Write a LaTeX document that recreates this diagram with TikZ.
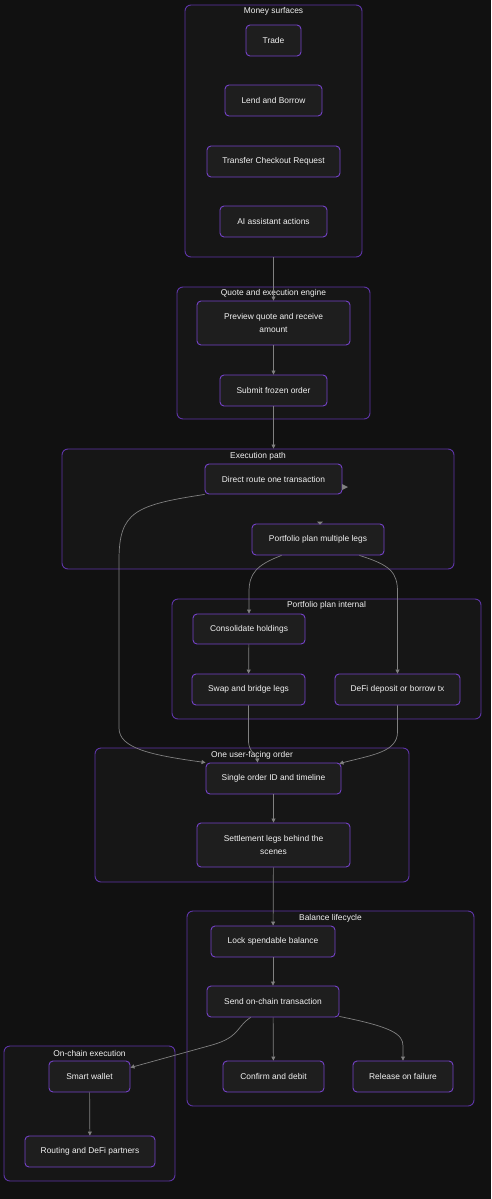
\documentclass[tikz,border=0pt]{standalone}
\usepackage{fontspec}
\setmainfont{Liberation Sans}
\usetikzlibrary{arrows.meta,calc}
\definecolor{bg}{HTML}{111111}
\definecolor{clfill}{HTML}{161616}
\definecolor{clborder}{HTML}{5E35A8}
\definecolor{ndfill}{HTML}{1E1E1E}
\definecolor{ndborder}{HTML}{7442C8}
\definecolor{txt}{HTML}{F2F2F2}
\definecolor{edge}{HTML}{808080}
\tikzset{
  cluster/.style={draw=clborder, fill=clfill, line width=0.9pt, rounded corners=6pt, inner sep=0pt},
  cltitle/.style={text=txt, font=\fontsize{8.4}{10}\selectfont, inner sep=0pt},
  box/.style={draw=ndborder, fill=ndfill, line width=0.9pt, rounded corners=4pt, text=txt,
    font=\fontsize{8.4}{13}\selectfont, align=center, inner sep=0pt},
  conn/.style={draw=edge, line width=0.7pt, -{Triangle[length=4pt,width=4pt]}},
}
\begin{document}
\begin{tikzpicture}[x=1pt,y=-1pt]
\fill[bg] (0,0) rectangle (491,1199);
\useasboundingbox (0,0) rectangle (491,1199);

% clusters
\node[cluster, minimum width=177pt, minimum height=252pt] (cms) at (273.5,131) {};
\node[cltitle] (tms) at (273.5,11.5) {Money surfaces};
\node[cluster, minimum width=193pt, minimum height=132pt] (cqe) at (273.5,353) {};
\node[cltitle] (tqe) at (273.5,293.5) {Quote and execution engine};
\node[cluster, minimum width=392pt, minimum height=120pt] (cep) at (258,509) {};
\node[cltitle] (tep) at (258,456.5) {Execution path};
\node[cluster, minimum width=309pt, minimum height=120pt] (cpi) at (326.5,659) {};
\node[cltitle] (tpi) at (326.5,605.5) {Portfolio plan internal};
\node[cluster, minimum width=314pt, minimum height=134pt] (cuo) at (252,815) {};
\node[cltitle] (tuo) at (252,755.5) {One user-facing order};
\node[cluster, minimum width=287pt, minimum height=195pt] (cbl) at (330.5,1008.5) {};
\node[cltitle] (tbl) at (330.5,918.5) {Balance lifecycle};
\node[cluster, minimum width=171pt, minimum height=135pt] (coe) at (89.5,1113.5) {};
\node[cltitle] (toe) at (89.5,1053.5) {On-chain execution};

% nodes
\node[box, minimum width=55pt, minimum height=31pt] (trade) at (273.5,40.5) {Trade};
\node[box, minimum width=97pt, minimum height=31pt] (lend) at (273.5,100.5) {Lend and Borrow};
\node[box, minimum width=133pt, minimum height=31pt] (transfer) at (273.5,161.5) {Transfer Checkout Request};
\node[box, minimum width=107pt, minimum height=31pt] (ai) at (273.5,221.5) {AI assistant actions};
\node[box, minimum width=153pt, minimum height=44pt] (preview) at (273.5,323) {Preview quote and receive\\amount};
\node[box, minimum width=107pt, minimum height=31pt] (submit) at (273.5,390.5) {Submit frozen order};
\node[box, minimum width=137pt, minimum height=30pt] (direct) at (273.5,479) {Direct route one transaction};
\node[box, minimum width=132pt, minimum height=31pt] (portfolio) at (318,539.5) {Portfolio plan multiple legs};
\node[box, minimum width=112pt, minimum height=30pt] (consol) at (249,629) {Consolidate holdings};
\node[box, minimum width=113pt, minimum height=31pt] (swap) at (248.5,689.5) {Swap and bridge legs};
\node[box, minimum width=125pt, minimum height=31pt] (defi) at (397.5,689.5) {DeFi deposit or borrow tx};
\node[box, minimum width=135pt, minimum height=31pt] (single) at (273.5,778.5) {Single order ID and timeline};
\node[box, minimum width=153pt, minimum height=44pt] (settle) at (273.5,845) {Settlement legs behind the\\scenes};
\node[box, minimum width=124pt, minimum height=31pt] (lock) at (273,941.5) {Lock spendable balance};
\node[box, minimum width=132pt, minimum height=31pt] (send) at (273,1001.5) {Send on-chain transaction};
\node[box, minimum width=101pt, minimum height=31pt] (confirm) at (273.5,1076.5) {Confirm and debit};
\node[box, minimum width=100pt, minimum height=31pt] (release) at (403,1076.5) {Release on failure};
\node[box, minimum width=81pt, minimum height=31pt] (smart) at (89.5,1076.5) {Smart wallet};
\node[box, minimum width=130pt, minimum height=31pt] (routing) at (90,1151.5) {Routing and DeFi partners};

% connectors
\draw[conn] (cms.south -| preview.north) -- (preview.north);
\draw[conn] (preview) -- (submit);
\draw[conn] (submit.south) -- (cep.north -| submit.south);
\draw[conn] ($(portfolio.south west)+(30,0)$) .. controls (256,565) and (249,574) .. (249,592) -- (consol.north);
\draw[conn] ($(portfolio.south east)+(-25,0)$) .. controls (390,565) and (397.5,572) .. (397.5,592) -- (defi.north);
\draw[conn] (consol) -- (swap);
\draw[conn] (direct.south west) .. controls (135,505) and (119,512) .. (119,560) -- (119,728) .. controls (119,748) and (150,755) .. (single.north west);
\draw[conn] (swap.south) -- (248.5,742) .. controls (249,752) and (257,755) .. ($(single.north west)+(52,0)$);
\draw[conn] (defi.south) -- (397.5,732) .. controls (397.5,752) and (372,755) .. ($(single.north east)+(-2,1)$);
\draw[conn] (single) -- (settle);
\draw[conn] (settle) -- (lock);
\draw[conn] (lock) -- (send);
\draw[conn] (send) -- (confirm);
\draw[conn] ($(send.south east)+(0,-1)$) .. controls (392,1027) and (403,1034) .. (403,1046) -- (release.north);
\draw[conn] ($(send.south west)+(44,0)$) .. controls (236,1027) and (240,1037) .. (212,1045) -- ($(smart.north east)+(0,7)$);
\draw[conn] (smart) -- (routing);

% stray arrowheads
\fill[edge] (342,484) -- (348,487) -- (342,490) -- cycle;
\fill[edge] (317,521.5) -- (323,521.5) -- (320,524.5) -- cycle;
\end{tikzpicture}
\end{document}
